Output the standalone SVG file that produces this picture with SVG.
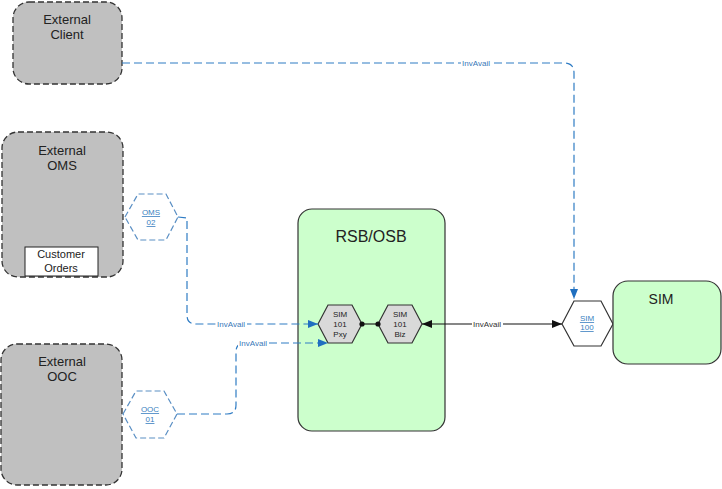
<svg xmlns="http://www.w3.org/2000/svg" width="722" height="489" viewBox="0 0 722 489">
<defs>
<style>
.ext{fill:#c0c0c0;stroke:#333;stroke-width:1.3;stroke-dasharray:6,3}
.grn{fill:#ccffcc;stroke:#333;stroke-width:1.2}
.hexg{fill:#d9d9d9;stroke:#333;stroke-width:1.2}
.hexw{fill:#fff;stroke:#333;stroke-width:1.2}
.hexd{fill:#fff;stroke:#5a8fc4;stroke-width:1.2;stroke-dasharray:6,3}
.t{font-family:"Liberation Sans",Arial,sans-serif;text-anchor:middle;fill:#222}
.t13{font-size:13px}
.t14{font-size:14px}
.t16{font-size:16px}
.t11{font-size:11px}
.t8{font-size:8px}
.lnk{font-family:"Liberation Sans",Arial,sans-serif;font-size:8px;text-anchor:middle;fill:#3a7fc0;text-decoration:underline}
.cb{fill:none;stroke:#2f7cc4;stroke-width:1.2;stroke-dasharray:8,4}
.ck{fill:none;stroke:#111;stroke-width:1.1}
.lbl{font-family:"Liberation Sans",Arial,sans-serif;font-size:8px;text-anchor:middle;fill:#3a78b8}
.lblk{font-family:"Liberation Sans",Arial,sans-serif;font-size:8px;text-anchor:middle;fill:#333}
</style>
<marker id="ab" viewBox="0 0 10 8" refX="10" refY="4" markerWidth="10" markerHeight="8" markerUnits="userSpaceOnUse" orient="auto-start-reverse">
<path d="M0,0 L10,4 L0,8 Z" fill="#1f6fc0"/>
</marker>
<marker id="ak" viewBox="0 0 10 8" refX="10" refY="4" markerWidth="10" markerHeight="8" markerUnits="userSpaceOnUse" orient="auto-start-reverse">
<path d="M0,0 L10,4 L0,8 Z" fill="#111"/>
</marker>
</defs>
<rect width="722" height="489" fill="#fff"/>

<g id="external-client">
<rect class="ext" x="13" y="2" width="109" height="82" rx="16"/>
<text class="t t13" x="67" y="24">External</text>
<text class="t t13" x="67" y="39">Client</text>
</g>

<g id="external-oms">
<rect class="ext" x="2" y="132" width="121" height="145" rx="16"/>
<text class="t t13" x="62" y="155">External</text>
<text class="t t13" x="62" y="170">OMS</text>
<rect x="25" y="247" width="73" height="29" fill="#fff" stroke="#222" stroke-width="1"/>
<text class="t t11" x="61" y="258">Customer</text>
<text class="t t11" x="61" y="272">Orders</text>
</g>

<g id="external-ooc">
<rect class="ext" x="1" y="344" width="121" height="141" rx="16"/>
<text class="t t13" x="62" y="366">External</text>
<text class="t t13" x="62" y="381">OOC</text>
</g>

<g id="oms02">
<polygon class="hexd" points="125,217 138,194 166,194 178,217 166,240 138,240"/>
<text class="lnk" x="151" y="215">OMS</text>
<text class="lnk" x="151" y="225">02</text>
</g>

<g id="ooc01">
<polygon class="hexd" points="123,414 136,391 164,391 177,414 164,438 136,438"/>
<text class="lnk" x="150" y="412">OOC</text>
<text class="lnk" x="150" y="422">01</text>
</g>

<g id="rsb-osb">
<rect class="grn" x="298" y="209" width="147" height="222" rx="14"/>
<text class="t t16" x="371" y="242">RSB/OSB</text>
</g>

<g id="sim101-pxy">
<polygon class="hexg" points="318,324 328,305 352,305 362,324 352,343 328,343"/>
<text class="t t8" x="340" y="317">SIM</text>
<text class="t t8" x="340" y="327">101</text>
<text class="t t8" x="340" y="337">Pxy</text>
</g>

<g id="sim101-biz">
<polygon class="hexg" points="378,324 388,305 412,305 422,324 412,343 388,343"/>
<text class="t t8" x="400" y="317">SIM</text>
<text class="t t8" x="400" y="327">101</text>
<text class="t t8" x="400" y="337">Biz</text>
</g>

<g id="sim100">
<polygon class="hexw" points="562,324 574,301 601,301 613,324 601,346 574,346"/>
<text class="lnk" x="587" y="321">SIM</text>
<text class="lnk" x="587" y="330">100</text>
</g>

<g id="sim">
<rect class="grn" x="613" y="281" width="108" height="83" rx="15"/>
<text class="t t14" x="661" y="304">SIM</text>
</g>

<g id="connectors">
<path class="cb" d="M122,63 H564 Q574,63 574,73 V299" marker-end="url(#ab)"/>
<rect x="461" y="58" width="31" height="10" fill="#fff"/>
<text class="lbl" x="476" y="66">InvAvail</text>

<path class="cb" d="M178,217 L187,218 V315 Q187,324 196,324 H318" marker-end="url(#ab)"/>
<rect x="216" y="319" width="31" height="10" fill="#fff"/>
<text class="lbl" x="231" y="327">InvAvail</text>

<path class="cb" d="M177,414 H227 Q236,414 236,405 V352 Q236,343 245,343 H328" marker-end="url(#ab)"/>
<rect x="238" y="338" width="31" height="10" fill="#fff"/>
<text class="lbl" x="253" y="346">InvAvail</text>

<path class="ck" d="M362,324 H378"/>
<circle cx="362" cy="324" r="2.6" fill="#111"/>
<circle cx="378" cy="324" r="2.6" fill="#111"/>

<path class="ck" d="M422,324 H562" marker-start="url(#ak)" marker-end="url(#ak)"/>
<rect x="472" y="319" width="31" height="10" fill="#fff"/>
<text class="lblk" x="487" y="327">InvAvail</text>
</g>
</svg>
